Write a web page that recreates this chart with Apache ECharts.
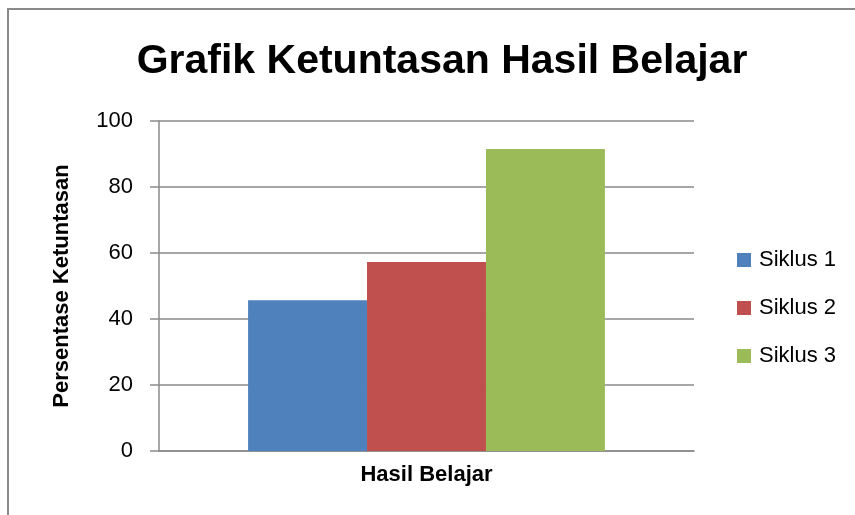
<!DOCTYPE html>
<html><head><meta charset="utf-8">
<script src="https://cdn.jsdelivr.net/npm/echarts@6/dist/echarts.min.js"></script>
<style>html,body{margin:0;padding:0;background:#fff}#c{width:855px;height:515px}</style>
</head><body><div id="c"></div>
<script>
const titleText = "Grafik Ketuntasan Hasil Belajar";
const categories = ["Hasil Belajar"];
const seriesNames = ["Siklus 1", "Siklus 2", "Siklus 3"];
const siklus1 = [45.7];
const siklus2 = [57.3];
const siklus3 = [91.5];
const yAxisName = "Persentase Ketuntasan";
const xAxisName = "Hasil Belajar";
const colors = ["#4F81BD", "#C0504D", "#9BBB59"];
const FONT = "Liberation Sans";

const chart = echarts.init(document.getElementById('c'), null, {renderer: 'canvas'});
const values = [siklus1, siklus2, siklus3];
chart.setOption({
  animation: false,
  backgroundColor: '#fff',
  title: {
    text: titleText, left: 437, top: 36, textAlign: 'center',
    textStyle: {fontFamily: FONT, fontWeight: 'bold', fontSize: 41, color: '#000'}
  },
  graphic: [{
    type: 'rect', shape: {x: 8, y: 9, width: 900, height: 600},
    style: {fill: 'none', stroke: '#8a8a8a', lineWidth: 2}, silent: true
  }],
  legend: {
    orient: 'vertical', left: 737, top: 249, padding: 0, itemWidth: 14, itemHeight: 14, itemGap: 26,
    icon: 'rect',
    textStyle: {fontFamily: FONT, fontSize: 22, color: '#000', lineHeight: 22, padding: [0,0,0,3]},
    data: seriesNames
  },
  grid: {left: 159, right: 161, top: 121, bottom: 64, containLabel: false},
  xAxis: {
    type: 'category', data: categories,
    name: xAxisName, nameLocation: 'middle', nameGap: 13,
    nameTextStyle: {fontFamily: FONT, fontWeight: 'bold', fontSize: 22, color: '#000'},
    axisLine: {lineStyle: {color: '#8a8a8a', width: 1.5}},
    axisTick: {show: false},
    axisLabel: {show: false}
  },
  yAxis: {
    type: 'value', min: 0, max: 100, interval: 20,
    name: yAxisName, nameLocation: 'middle', nameGap: 86, nameRotate: 90,
    nameTextStyle: {fontFamily: FONT, fontWeight: 'bold', fontSize: 22, color: '#000'},
    axisLine: {show: true, lineStyle: {color: '#8a8a8a', width: 1.5}},
    axisTick: {show: true, length: 9, lineStyle: {color: '#8a8a8a', width: 1.5}},
    axisLabel: {fontFamily: FONT, fontSize: 22, color: '#000', margin: 26, padding: [3,0,0,0]},
    splitLine: {lineStyle: {color: '#8a8a8a', width: 1.5}}
  },
  series: seriesNames.map((n, i) => ({
    name: n, type: 'bar', data: values[i],
    itemStyle: {color: colors[i]},
    barGap: '0%', barCategoryGap: '33.3%'
  }))
});
</script></body></html>
